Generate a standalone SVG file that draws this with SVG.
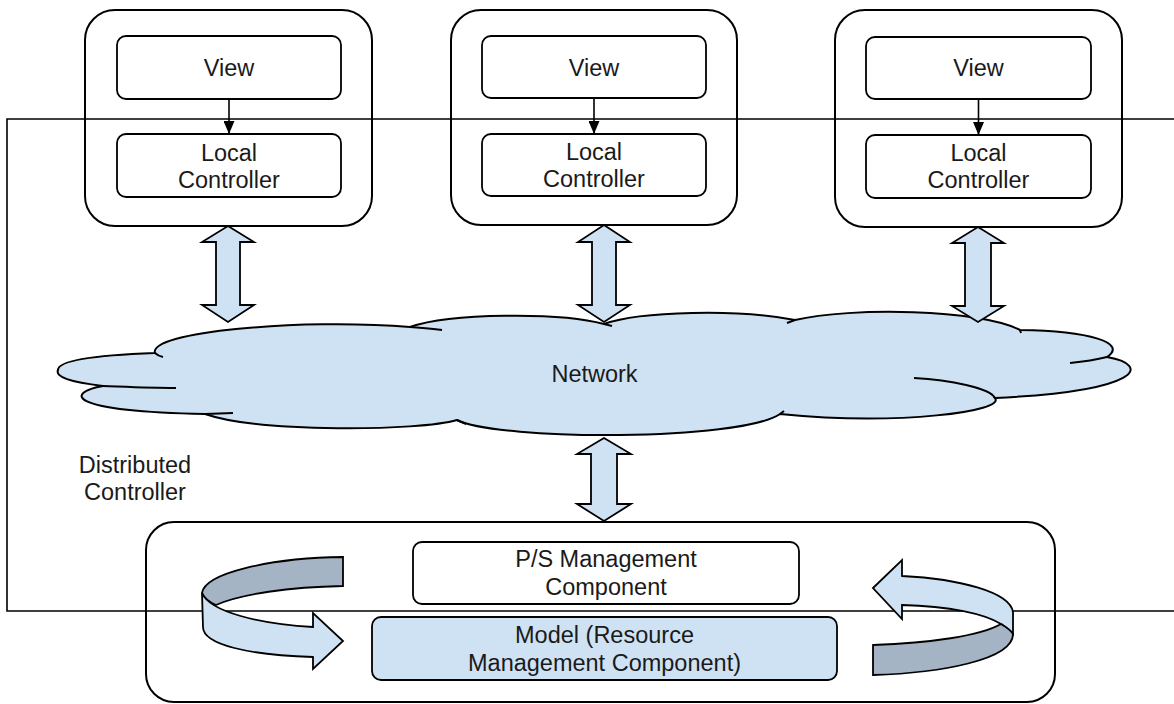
<svg xmlns="http://www.w3.org/2000/svg" width="1174" height="704" viewBox="0 0 1174 704">
<defs>
<style>
.outer{fill:#ffffff;stroke:#000;stroke-width:2}
.inner{fill:#ffffff;stroke:#000;stroke-width:1.8}
.model{fill:#cfe2f3;stroke:#000;stroke-width:1.8}
.dbl{fill:#cfe2f3;stroke:#000;stroke-width:1.8;stroke-linejoin:miter}
.cloud{fill:#cfe2f3;stroke:#000;stroke-width:2}
.tail{fill:none;stroke:#000;stroke-width:2}
.frame{fill:none;stroke:#000;stroke-width:1.6}
.lite{fill:#cfe2f3;stroke:#000;stroke-width:1.8;stroke-linejoin:miter}
.dark{fill:#a4b4c4;stroke:#000;stroke-width:1.8;stroke-linejoin:miter}
.conn{fill:none;stroke:#000;stroke-width:1.6}
text{font-family:"Liberation Sans",Arial,sans-serif;font-size:23.5px;fill:#1a1a1a;text-anchor:middle}
</style>
<marker id="ah" markerWidth="13" markerHeight="11" refX="13" refY="5.5" orient="auto" markerUnits="userSpaceOnUse">
<path d="M0,0 L13,5.5 L0,11 Z" fill="#000"/>
</marker>
</defs>

<g id="client1">
<rect class="outer" x="85" y="10" width="287" height="216" rx="30"/>
</g>
<g id="client2">
<rect class="outer" x="451" y="10" width="286" height="215" rx="30"/>
</g>
<g id="client3">
<rect class="outer" x="835" y="10" width="287" height="217" rx="30"/>
</g>

<g id="bottom-box">
<rect class="outer" x="146" y="522" width="909" height="180" rx="28"/>
</g>

<g id="distributed-controller">
<path class="frame" d="M1180,119 L7,119 L7,611 L1180,611"/>
<text x="135" y="473">Distributed</text>
<text x="135" y="500">Controller</text>
</g>

<g id="view1">
<rect class="inner" x="117" y="36" width="224" height="63" rx="9"/>
<text x="229" y="76">View</text>
</g>
<g id="lc1">
<rect class="inner" x="117" y="134" width="224" height="63" rx="9"/>
<text x="229" y="161">Local</text>
<text x="229" y="188">Controller</text>
</g>
<g id="view2">
<rect class="inner" x="482" y="36" width="224" height="62" rx="9"/>
<text x="594" y="76">View</text>
</g>
<g id="lc2">
<rect class="inner" x="482" y="134" width="224" height="62" rx="9"/>
<text x="594" y="160">Local</text>
<text x="594" y="187">Controller</text>
</g>
<g id="view3">
<rect class="inner" x="866" y="37" width="225" height="62" rx="9"/>
<text x="978.5" y="76">View</text>
</g>
<g id="lc3">
<rect class="inner" x="866" y="135" width="225" height="63" rx="9"/>
<text x="978.5" y="161">Local</text>
<text x="978.5" y="188">Controller</text>
</g>

<g id="network">
<path class="cloud" d="M58,370 C58,360 100,355 155,353 C148,332 300,318 410,327 C450,313 560,312 604,324 C640,311 740,309 795,320 C850,307 980,309 1020,330 C1090,331 1128,343 1107,357 C1152,365 1142,391 995,398 C1006,411 900,426 780,414 C740,441 500,441 457,420 C420,431 260,433 205,414 C60,411 68,392 103,386 C70,382 55,377 58,370 Z"/>
<path class="tail" d="M103,386 C130,387 150,388 176,388"/>
<path class="tail" d="M205,414 L233,413"/>
<path class="tail" d="M155,353 Q158,356 163,357"/>
<path class="tail" d="M410,327 C425,328 435,329 442,330"/>
<path class="tail" d="M604,324 L612,326"/>
<path class="tail" d="M795,320 L787,323"/>
<path class="tail" d="M1020,330 L1021,333"/>
<path class="tail" d="M1107,357 C1095,360 1080,362 1070,363"/>
<path class="tail" d="M995,398 C990,388 950,380 914,378"/>
<path class="tail" d="M780,414 L784,411"/>
<path class="tail" d="M457,420 L466,424"/>
<text x="594.5" y="382">Network</text>
</g>

<g id="ps-management">
<rect class="inner" x="413" y="542" width="386" height="62" rx="9"/>
<text x="606" y="567">P/S Management</text>
<text x="606" y="595">Component</text>
</g>
<g id="model">
<rect class="model" x="372" y="617" width="465" height="63" rx="9"/>
<text x="604.5" y="643">Model (Resource</text>
<text x="604.5" y="671">Management Component)</text>
</g>

<g id="connectors">
<line class="conn" x1="229" y1="99" x2="229" y2="134" marker-end="url(#ah)"/>
<line class="conn" x1="594" y1="98" x2="594" y2="134" marker-end="url(#ah)"/>
<line class="conn" x1="978.5" y1="99" x2="978.5" y2="135" marker-end="url(#ah)"/>
<path class="dbl" d="M228,226 L254,242 L240,242 L240,305 L254,305 L228,322 L202,305 L216,305 L216,242 L202,242 Z"/>
<path class="dbl" d="M604,225 L630,242 L616,242 L616,305 L630,305 L604,322 L578,305 L592,305 L592,242 L578,242 Z"/>
<path class="dbl" d="M978,227 L1004,243 L991,243 L991,306 L1004,306 L978,322 L952,306 L965,306 L965,243 L952,243 Z"/>
<path class="dbl" d="M604,438 L631,454 L617,454 L617,504 L631,504 L604,521 L577,504 L591,504 L591,454 L577,454 Z"/>
</g>

<g id="cycle-left">
<path class="dark" d="M343,557 L343,586 C290,587 240,594 216,605 Q205,600 202,593 C205,573 270,558 343,557 Z"/>
<path class="lite" d="M202,593 C210,612 260,624 313,627 L313,613 L343,641 L313,669 L313,657 C250,655 203,645 203,627 Z"/>
</g>
<g id="cycle-right">
<path class="lite" d="M873,588 L902,560 L902,576 C960,579 1010,592 1013,612 L1013,634 C1010,630 1005,627 1001,624 C985,614 950,606 902,605 L902,619 Z"/>
<path class="dark" d="M1013,634 C1013,660 940,673 873,675 L873,645 C930,643 980,636 1001,624 C1006,627 1011,630 1013,634 Z"/>
</g>
</svg>
